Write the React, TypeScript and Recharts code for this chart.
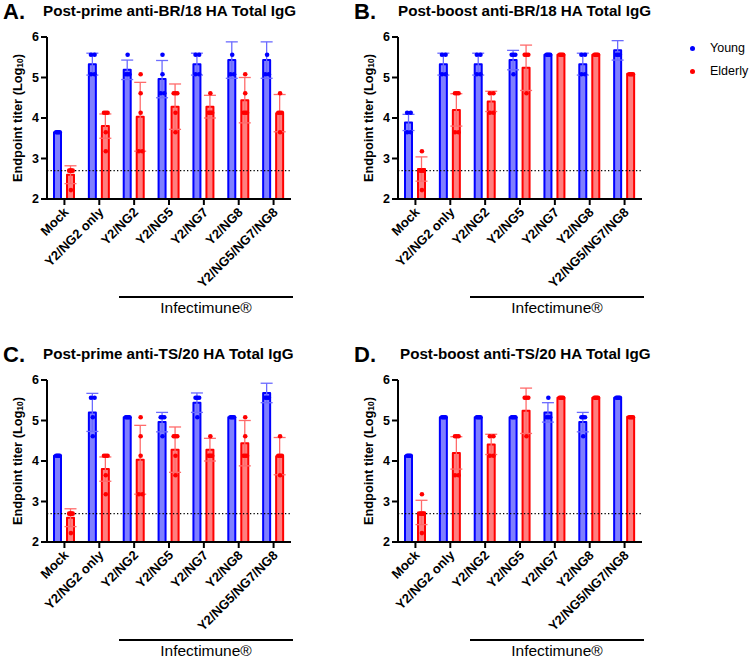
import React from "react";
import {
  ComposedChart,
  Bar,
  ErrorBar,
  Scatter,
  XAxis,
  YAxis,
  ReferenceLine,
} from "recharts";

const CATEGORIES = [
  "Mock",
  "Y2/NG2 only",
  "Y2/NG2",
  "Y2/NG5",
  "Y2/NG7",
  "Y2/NG8",
  "Y2/NG5/NG7/NG8",
];
const Y_TICKS = [2, 3, 4, 5, 6];
const Y_MIN = 2;
const Y_MAX = 6;
const LIMIT_OF_DETECTION = 2.7;

// A. post-prime, BR/18
const A_YOUNG_MEAN = [3.65, 5.33, 5.19, 4.96, 5.33, 5.43, 5.43];
const A_YOUNG_SD = [0, 0.27, 0.24, 0.46, 0.27, 0.45, 0.45];
const A_YOUNG_PTS = [
  [3.65, 3.65, 3.65, 3.65],
  [5.56, 5.56, 5.08, 5.08],
  [5.56, 5.08, 5.08, 5.08],
  [5.56, 5.08, 4.61, 4.61],
  [5.56, 5.56, 5.08, 5.08],
  [6.04, 5.56, 5.08, 5.08],
  [6.04, 5.56, 5.08, 5.08],
];
const A_ELDERLY_MEAN = [2.6, 3.8, 4.03, 4.28, 4.28, 4.44, 4.12];
const A_ELDERLY_SD = [0.22, 0.3, 0.85, 0.56, 0.28, 0.56, 0.46];
const A_ELDERLY_PTS = [
  [2.7, 2.7, 2.7, 2.7, 2.22],
  [4.13, 4.13, 4.13, 3.65, 3.18],
  [5.08, 4.61, 4.13, 3.18, 3.18],
  [4.61, 4.61, 4.61, 4.13, 3.65],
  [4.61, 4.13, 4.13, 4.13, 4.13],
  [5.08, 4.61, 4.13, 4.13, 4.13],
  [4.61, 4.13, 4.13, 4.13, 3.65],
];

// B. post-boost, BR/18
const B_YOUNG_MEAN = [3.89, 5.33, 5.33, 5.43, 5.56, 5.33, 5.67];
const B_YOUNG_SD = [0.2, 0.27, 0.27, 0.24, 0, 0.27, 0.24];
const B_YOUNG_PTS = [
  [4.13, 4.13, 3.65, 3.65],
  [5.56, 5.56, 5.08, 5.08],
  [5.56, 5.56, 5.08, 5.08],
  [5.56, 5.56, 5.56, 5.08],
  [5.56, 5.56, 5.56, 5.56],
  [5.56, 5.56, 5.08, 5.08],
  [6.04, 5.56, 5.56, 5.56],
];
const B_ELDERLY_MEAN = [2.74, 4.2, 4.41, 5.24, 5.56, 5.56, 5.09];
const B_ELDERLY_SD = [0.3, 0.4, 0.25, 0.56, 0, 0, 0];
const B_ELDERLY_PTS = [
  [3.18, 2.7, 2.7, 2.7, 2.22],
  [4.61, 4.61, 4.61, 3.65, 3.65],
  [4.61, 4.61, 4.13, 4.13],
  [5.56, 5.56, 5.56, 4.61],
  [5.56, 5.56, 5.56, 5.56],
  [5.56, 5.56, 5.56, 5.56],
  [5.08, 5.08, 5.08, 5.08],
];

// C. post-prime, TS/20
const C_YOUNG_MEAN = [4.13, 5.2, 5.08, 4.96, 5.44, 5.08, 5.68];
const C_YOUNG_SD = [0, 0.47, 0, 0.24, 0.24, 0, 0.24];
const C_YOUNG_PTS = [
  [4.13, 4.13, 4.13, 4.13],
  [5.56, 5.56, 5.08, 4.61],
  [5.08, 5.08, 5.08, 5.08],
  [5.08, 5.08, 5.08, 4.61],
  [5.56, 5.56, 5.56, 5.08],
  [5.08, 5.08, 5.08, 5.08],
  [6.04, 5.56, 5.56, 5.56],
];
const C_ELDERLY_MEAN = [2.6, 3.8, 4.03, 4.28, 4.28, 4.44, 4.12];
const C_ELDERLY_SD = [0.22, 0.3, 0.85, 0.56, 0.28, 0.56, 0.46];
const C_ELDERLY_PTS = [
  [2.7, 2.7, 2.7, 2.7, 2.22],
  [4.13, 4.13, 4.13, 3.65, 3.18],
  [5.08, 4.61, 4.13, 3.18, 3.18],
  [4.61, 4.61, 4.61, 4.13, 3.65],
  [4.61, 4.13, 4.13, 4.13, 4.13],
  [5.08, 4.61, 4.13, 4.13, 4.13],
  [4.61, 4.13, 4.13, 4.13, 3.65],
];

// D. post-boost, TS/20
const D_YOUNG_MEAN = [4.13, 5.08, 5.08, 5.08, 5.2, 4.96, 5.56];
const D_YOUNG_SD = [0, 0, 0, 0, 0.24, 0.24, 0];
const D_YOUNG_PTS = [
  [4.13, 4.13, 4.13, 4.13],
  [5.08, 5.08, 5.08, 5.08],
  [5.08, 5.08, 5.08, 5.08],
  [5.08, 5.08, 5.08, 5.08],
  [5.56, 5.08, 5.08, 5.08],
  [5.08, 5.08, 5.08, 4.61],
  [5.56, 5.56, 5.56, 5.56],
];
const D_ELDERLY_MEAN = [2.73, 4.2, 4.41, 5.24, 5.56, 5.56, 5.09];
const D_ELDERLY_SD = [0.3, 0.4, 0.25, 0.56, 0, 0, 0];
const D_ELDERLY_PTS = [
  [3.18, 2.7, 2.7, 2.7, 2.22],
  [4.61, 4.61, 4.61, 3.65, 3.65],
  [4.61, 4.61, 4.13, 4.13],
  [5.56, 5.56, 5.56, 4.61],
  [5.56, 5.56, 5.56, 5.56],
  [5.56, 5.56, 5.56, 5.56],
  [5.08, 5.08, 5.08, 5.08],
];

const BLUE = "#0000ff";
const RED = "#ff0000";
const BAR_SIZE = 7;
const BAR_GAP = 6;
const SLOTS = [0, 1, 2, 3, 4];
const FONT = "'Liberation Sans', Arial, Helvetica, sans-serif";

function buildRows(
  yMean: number[],
  ySd: number[],
  yPts: number[][],
  eMean: number[],
  eSd: number[],
  ePts: number[][]
) {
  return CATEGORIES.map((name, i) => {
    const row: any = {
      name,
      young: yMean[i],
      youngSd: ySd[i],
      elderly: eMean[i],
      elderlySd: eSd[i],
      youngPts: yPts[i],
      elderlyPts: ePts[i],
    };
    SLOTS.forEach((k) => {
      row[`y${k}`] = yPts[i][k];
      row[`e${k}`] = ePts[i][k];
    });
    return row;
  });
}

// individual animals, pushed over their own bar and spread sideways when tied;
// values past the top of the axis are left off like the original plot does
const makeDot =
  (side: number, key: string, slot: number, color: string) => (props: any) => {
    const { cx, cy, payload } = props;
    const pts: number[] = payload?.[key] ?? [];
    const v = pts[slot];
    if (v === undefined || v > Y_MAX || v < Y_MIN) return <g />;
    if (!Number.isFinite(cx) || !Number.isFinite(cy)) return <g />;
    const same = pts.filter((p) => p === v).length;
    const rank = pts.slice(0, slot).filter((p) => p === v).length;
    const dx = same > 1 ? (rank / (same - 1) - 0.5) * 3.6 : 0;
    const off = (side * (BAR_SIZE + BAR_GAP)) / 2;
    return <circle cx={cx + off + dx} cy={cy} r={2.3} fill={color} />;
  };

function AngledTick({ x, y, payload }: any) {
  const ax = x + 5;
  const ay = y + 6;
  return (
    <text
      x={ax}
      y={ay}
      transform={`rotate(-45 ${ax} ${ay})`}
      textAnchor="end"
      fontSize={13}
      fontWeight={700}
      fill="#000"
    >
      {payload.value}
    </text>
  );
}

function YTitle({ viewBox }: any) {
  const cx = 17;
  const cy = viewBox.y + viewBox.height / 2;
  return (
    <text
      x={cx}
      y={cy}
      transform={`rotate(-90 ${cx} ${cy})`}
      textAnchor="middle"
      dominantBaseline="central"
      fontSize={12.8}
      fontWeight={700}
      fill="#000"
    >
      <tspan>Endpoint titer (Log</tspan>
      <tspan fontSize={8.5} dy={3}>
        10
      </tspan>
      <tspan dy={-3}>)</tspan>
    </text>
  );
}

function Panel({ letter, title, rows, left, top, titleX }: any) {
  return (
    <div style={{ position: "absolute", left, top, width: 360, height: 320 }}>
      <ComposedChart
        width={330}
        height={300}
        data={rows}
        margin={{ top: 37, right: 39, bottom: 11, left: 0 }}
        barSize={BAR_SIZE}
        barGap={BAR_GAP}
      >
        <XAxis
          dataKey="name"
          type="category"
          interval={0}
          height={90}
          tick={<AngledTick />}
          tickSize={6}
          axisLine={{ stroke: "#000", strokeWidth: 2 }}
          tickLine={{ stroke: "#000", strokeWidth: 2 }}
        />
        <YAxis
          type="number"
          domain={[Y_MIN, Y_MAX]}
          ticks={Y_TICKS}
          allowDataOverflow
          width={47}
          tickSize={6}
          tick={{ fontSize: 12.5, fontWeight: 700, fill: "#000" }}
          axisLine={{ stroke: "#000", strokeWidth: 2 }}
          tickLine={{ stroke: "#000", strokeWidth: 2 }}
          label={<YTitle />}
        />
        <Bar
          dataKey="young"
          fill={BLUE}
          fillOpacity={0.5}
          stroke={BLUE}
          strokeWidth={2}
          strokeLinejoin="round"
          isAnimationActive={false}
        >
          <ErrorBar dataKey="youngSd" width={6} stroke="#6b6bff" strokeWidth={1.3} />
        </Bar>
        <Bar
          dataKey="elderly"
          fill={RED}
          fillOpacity={0.5}
          stroke={RED}
          strokeWidth={2}
          strokeLinejoin="round"
          isAnimationActive={false}
        >
          <ErrorBar dataKey="elderlySd" width={6} stroke="#ff6b6b" strokeWidth={1.3} />
        </Bar>
        {SLOTS.map((k) => (
          <Scatter
            key={`y${k}`}
            dataKey={`y${k}`}
            shape={makeDot(-1, "youngPts", k, BLUE)}
            isAnimationActive={false}
          />
        ))}
        {SLOTS.map((k) => (
          <Scatter
            key={`e${k}`}
            dataKey={`e${k}`}
            shape={makeDot(1, "elderlyPts", k, RED)}
            isAnimationActive={false}
          />
        ))}
        <ReferenceLine
          y={LIMIT_OF_DETECTION}
          stroke="#000"
          strokeWidth={1.3}
          strokeDasharray="1.3 2.2"
        />
      </ComposedChart>
      <div
        style={{
          position: "absolute",
          left: 3,
          top: -1,
          fontSize: 22,
          fontWeight: 700,
          lineHeight: "26px",
        }}
      >
        {letter}.
      </div>
      <div
        style={{
          position: "absolute",
          left: titleX,
          top: 2,
          fontSize: 15.2,
          fontWeight: 700,
          lineHeight: "18px",
          whiteSpace: "nowrap",
        }}
      >
        {title}
      </div>
      <div
        style={{
          position: "absolute",
          left: 119,
          top: 296,
          width: 174,
          height: 2,
          background: "#000",
        }}
      />
      <div
        style={{
          position: "absolute",
          left: 119,
          top: 300,
          width: 174,
          textAlign: "center",
          fontSize: 15.5,
          lineHeight: "16px",
        }}
      >
        Infectimune®
      </div>
    </div>
  );
}

function SideLegend() {
  const items = [
    { label: "Young", color: BLUE, y: 48 },
    { label: "Elderly", color: RED, y: 71 },
  ];
  return (
    <>
      {items.map((it) => (
        <div key={it.label}>
          <div
            style={{
              position: "absolute",
              left: 690,
              top: it.y - 2.5,
              width: 5,
              height: 5,
              borderRadius: "50%",
              background: it.color,
            }}
          />
          <div
            style={{
              position: "absolute",
              left: 710,
              top: it.y - 8,
              fontSize: 12.5,
              lineHeight: "16px",
            }}
          >
            {it.label}
          </div>
        </div>
      ))}
    </>
  );
}

export default function App() {
  const rowsA = buildRows(A_YOUNG_MEAN, A_YOUNG_SD, A_YOUNG_PTS, A_ELDERLY_MEAN, A_ELDERLY_SD, A_ELDERLY_PTS);
  const rowsB = buildRows(B_YOUNG_MEAN, B_YOUNG_SD, B_YOUNG_PTS, B_ELDERLY_MEAN, B_ELDERLY_SD, B_ELDERLY_PTS);
  const rowsC = buildRows(C_YOUNG_MEAN, C_YOUNG_SD, C_YOUNG_PTS, C_ELDERLY_MEAN, C_ELDERLY_SD, C_ELDERLY_PTS);
  const rowsD = buildRows(D_YOUNG_MEAN, D_YOUNG_SD, D_YOUNG_PTS, D_ELDERLY_MEAN, D_ELDERLY_SD, D_ELDERLY_PTS);

  return (
    <div
      style={{
        position: "absolute",
        left: 0,
        top: 0,
        width: 750,
        height: 660,
        background: "#fff",
        overflow: "hidden",
        fontFamily: FONT,
        color: "#000",
      }}
    >
      <Panel letter="A" title="Post-prime anti-BR/18 HA Total IgG" rows={rowsA} left={0} top={0} titleX={43} />
      <Panel letter="B" title="Post-boost anti-BR/18 HA Total IgG" rows={rowsB} left={351} top={0} titleX={47} />
      <Panel letter="C" title="Post-prime anti-TS/20 HA Total IgG" rows={rowsC} left={0} top={343} titleX={43} />
      <Panel letter="D" title="Post-boost anti-TS/20 HA Total IgG" rows={rowsD} left={351} top={343} titleX={49} />
      <SideLegend />
    </div>
  );
}
